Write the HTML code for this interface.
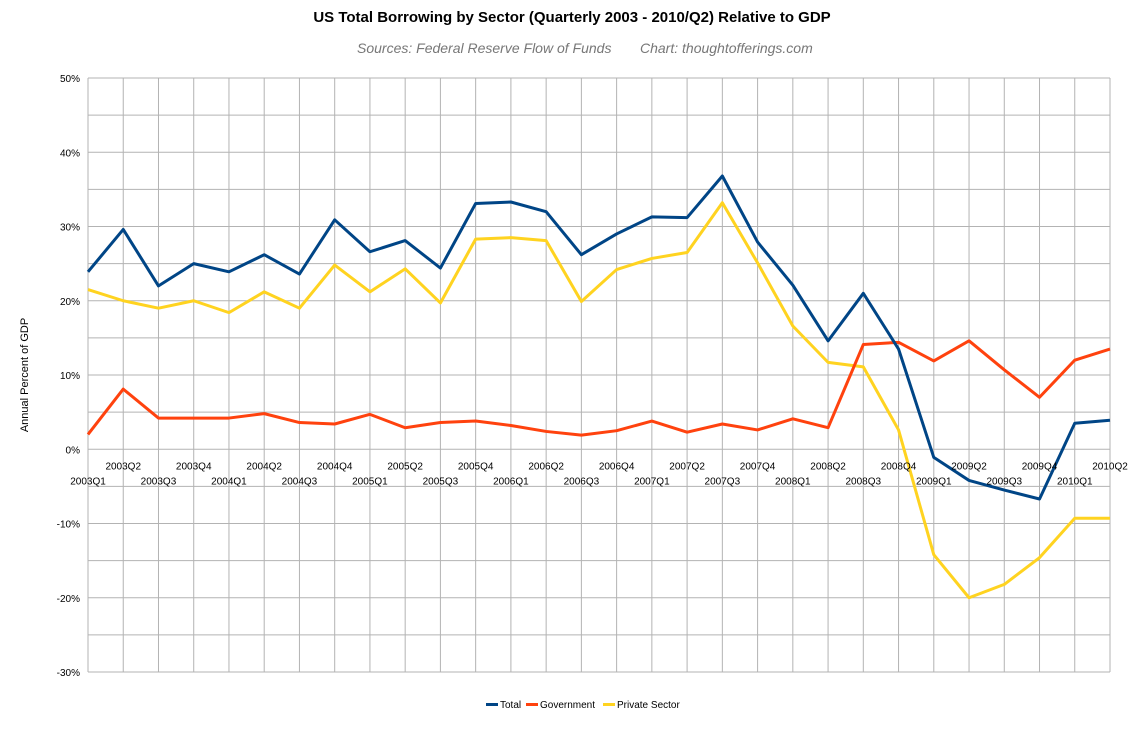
<!DOCTYPE html>
<html><head><meta charset="utf-8"><style>
body{margin:0;background:#fff;font-family:"Liberation Sans",sans-serif}
svg text{font-family:"Liberation Sans",sans-serif}
</style></head><body>
<svg id="c" width="1145" height="724">
<text x="572" y="22" text-anchor="middle" font-size="15" font-weight="bold">US Total Borrowing by Sector (Quarterly 2003 - 2010/Q2) Relative to GDP</text>
<text x="357" y="53" font-size="14" font-style="italic" fill="#777">Sources: Federal Reserve Flow of Funds</text>
<text x="640" y="53" font-size="14" font-style="italic" fill="#777">Chart: thoughtofferings.com</text>
<text transform="translate(28,375) rotate(-90)" text-anchor="middle" font-size="11">Annual Percent of GDP</text>
<g id="grid"></g>
<g id="series"></g>
<g id="labels"></g>
<g font-size="10">
<g><rect x="486" y="703" width="12" height="3" fill="#004586"/><text x="500" y="708">Total</text></g>
<g><rect x="526" y="703" width="12" height="3" fill="#ff420e"/><text x="540" y="708">Government</text></g>
<g><rect x="603" y="703" width="12" height="3" fill="#ffd320"/><text x="617" y="708">Private Sector</text></g>
</g>
</svg>
<script>
const categories=[];for(let y=2003;y<=2010;y++)for(let q=1;q<=4;q++){if(y===2010&&q>2)break;categories.push(y+'Q'+q);}
const totalValues=[23.9,29.6,22.0,25.0,23.9,26.2,23.6,30.9,26.6,28.1,24.4,33.1,33.3,32.0,26.2,29.0,31.3,31.2,36.8,27.9,22.1,14.6,21.0,13.5,-1.1,-4.2,-5.5,-6.7,3.5,3.9];
const governmentValues=[2.0,8.1,4.2,4.2,4.2,4.8,3.6,3.4,4.7,2.9,3.6,3.8,3.2,2.4,1.9,2.5,3.8,2.3,3.4,2.6,4.1,2.9,14.1,14.4,11.9,14.6,10.7,7.0,12.0,13.5];
const privateValues=[21.5,20.0,19.0,20.0,18.4,21.2,19.0,24.8,21.2,24.3,19.7,28.3,28.5,28.1,19.9,24.2,25.7,26.5,33.2,25.1,16.6,11.7,11.1,2.6,-14.2,-20.0,-18.2,-14.6,-9.3,-9.3];
const yTicks=[50,40,30,20,10,0,-10,-20,-30];
const NS='http://www.w3.org/2000/svg';
const X0=88,X1=1110,Y0=78,Y1=672,VMAX=50,VMIN=-30;
const xs=i=>X0+(X1-X0)*i/(categories.length-1);
const ys=v=>Y0+(VMAX-v)/(VMAX-VMIN)*(Y1-Y0);
function mk(t,a,p){const e=document.createElementNS(NS,t);for(const k in a)e.setAttribute(k,a[k]);p.appendChild(e);return e;}
const grid=document.getElementById('grid'),lab=document.getElementById('labels'),ser=document.getElementById('series');
for(let v=VMIN;v<=VMAX;v+=5){const l=mk('line',{x1:X0,x2:X1,y1:ys(v),y2:ys(v),stroke:'#b3b3b3','stroke-width':1},grid);

}
categories.forEach((c,i)=>{const l=mk('line',{x1:xs(i),x2:xs(i),y1:Y0,y2:Y1,stroke:'#b3b3b3','stroke-width':1},grid);


const t=mk('text',{x:xs(i),y:ys(0)+(i%2?20:35),'text-anchor':'middle','font-size':10},lab);t.textContent=c;

});
yTicks.forEach(v=>{const t=mk('text',{x:X0-8,y:ys(v)+4,'text-anchor':'end','font-size':10},lab);t.textContent=v+'%';

});
[[privateValues,'#ffd320','private-sector-line'],[governmentValues,'#ff420e','government-line'],[totalValues,'#004586','total-line']].forEach(([d,col,n])=>{
const p=mk('polyline',{points:d.map((v,i)=>xs(i)+','+ys(v)).join(' '),fill:'none',stroke:col,'stroke-width':3,'stroke-linejoin':'round'},ser);

});
</script>
</body></html>
